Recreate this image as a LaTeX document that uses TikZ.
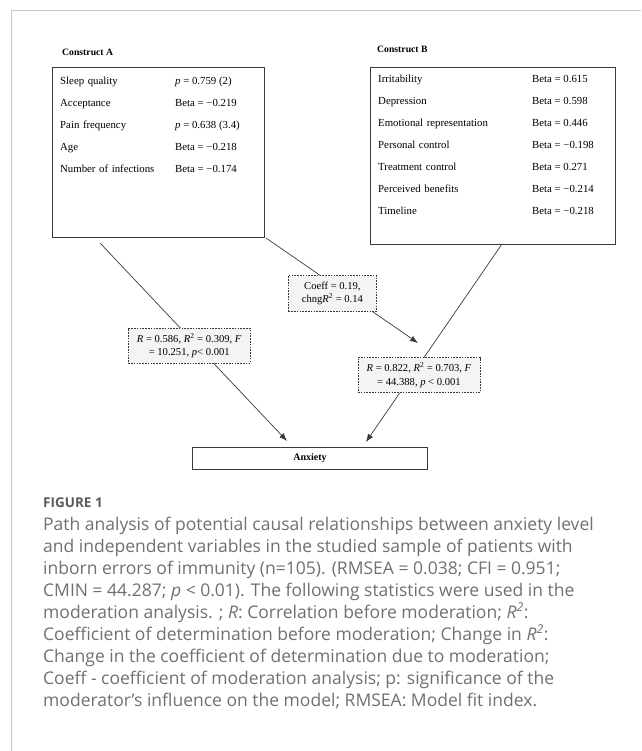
\documentclass[tikz,border=0pt]{standalone}
\usepackage{fontspec}
\setmainfont{Liberation Serif}
\newfontfamily\capfont{Open Sans}
\usepackage{tikz}
\usetikzlibrary{matrix,fit,positioning,arrows.meta}

\definecolor{framegray}{HTML}{C8C8C8}
\definecolor{linegray}{HTML}{3A3A3A}
\definecolor{statfill}{HTML}{F4F4F4}
\definecolor{captext}{HTML}{707070}
\definecolor{caphead}{HTML}{5A5A5A}

\tikzset{
  construct/.style={draw=linegray,line width=0.8pt,anchor=north west,inner sep=0pt},
  rows/.style={matrix of nodes,anchor=north west,inner sep=0pt,row sep=12pt,
    nodes={inner sep=0pt,text height=7.5pt,text depth=2.5pt,anchor=base west,
      font=\fontsize{10.8}{12}\selectfont}},
  title/.style={anchor=base west,inner sep=0pt,font=\fontsize{9.7}{11}\selectfont\bfseries},
  stat/.style={draw=linegray,fill=statfill,dash pattern=on 1.6pt off 1.2pt,line width=0.6pt,
    minimum height=35pt,inner sep=0pt,align=center,font=\fontsize{10.6}{13.4}\selectfont},
  conn/.style={draw=linegray,line width=0.7pt,-{Latex[length=8pt,width=6pt]}},
}

\begin{document}
\begin{tikzpicture}[x=1pt,y=-1pt]
\useasboundingbox (0,0) rectangle (641,751);
\draw[framegray,line width=1pt] (641,11) -- (11,11) -- (11,751);

% construct A
\node[title] (tA) at (62,56) {Construct A};
\node[construct,minimum width=212pt,minimum height=170pt] (boxA) at (52,67) {};
\matrix (A) [rows,column 1/.style={nodes={text width=115pt}}] at (60,76.5)
{
Sleep quality & \textit{p} = 0.759 (2) \\
Acceptance & Beta = −0.219 \\
Pain frequency & \textit{p} = 0.638 (3.4) \\
Age & Beta = −0.218 \\
Number of infections & Beta = −0.174 \\
};

% construct B
\node[title] (tB) at (377,53) {Construct B};
\node[construct,minimum width=245pt,minimum height=177pt] (boxB) at (370,67) {};
\matrix (B) [rows,column 1/.style={nodes={text width=154pt}}] at (378,74.5)
{
Irritability & Beta = 0.615 \\
Depression & Beta = 0.598 \\
Emotional representation & Beta = 0.446 \\
Personal control & Beta = −0.198 \\
Treatment control & Beta = 0.271 \\
Perceived benefits & Beta = −0.214 \\
Timeline & Beta = −0.218 \\
};

% outcome
\node[draw=linegray,line width=0.8pt,minimum width=235pt,minimum height=22pt,inner sep=0pt,
  font=\fontsize{10}{12}\selectfont\bfseries] (anx) at (310,458) {Anxiety};

% paths
\coordinate (aout) at (100,243);
\coordinate (atip) at (287,441);
\coordinate (cout) at (266,238);
\coordinate (ctip) at (418,343);
\coordinate (bout) at (502,244);
\coordinate (btip) at (366,442);

\draw[conn] (aout) -- node[stat,pos=0.52,xshift=-8pt,minimum width=122pt] (sA)
  {\textit{R} = 0.586, \textit{R}\textsuperscript{2} = 0.309, \textit{F}\\ = 10.251, \textit{p}< 0.001} (atip);
\draw[conn] (cout) -- node[stat,pos=0.529,xshift=-14pt,minimum width=88pt,minimum height=36pt] (sC)
  {Coeff = 0.19,\\ chng\textit{R}\textsuperscript{2} = 0.14} (ctip);
\draw[conn] (bout) -- node[stat,pos=0.662,xshift=7pt,minimum width=122pt] (sB)
  {\textit{R} = 0.822, \textit{R}\textsuperscript{2} = 0.703, \textit{F}\\ = 44.388, \textit{p} < 0.001} (btip);

% caption
\node[anchor=base west,inner sep=0pt,text=caphead,font=\capfont\bfseries\fontsize{13.5}{16}\selectfont]
  (fig) at (43,507) {FIGURE 1};
\node[anchor=base west,inner sep=0pt,align=left,text=captext,font=\capfont\fontsize{17.5}{22}\selectfont]
  (cap) at (43,706) {Path analysis of potential causal relationships between anxiety level\\
and independent variables in the studied sample of patients with\\
inborn errors of immunity (n=105). (RMSEA = 0.038; CFI = 0.951;\\
CMIN = 44.287; \textit{p} < 0.01). The following statistics were used in the\\
moderation analysis. ; \textit{R}: Correlation before moderation; \textit{R}\textsuperscript{\textit{2}}:\\
Coefficient of determination before moderation; Change in \textit{R}\textsuperscript{\textit{2}}:\\
Change in the coefficient of determination due to moderation;\\
Coeff - coefficient of moderation analysis; p: significance of the\\
moderator’s influence on the model; RMSEA: Model fit index.};
\end{tikzpicture}
\end{document}
